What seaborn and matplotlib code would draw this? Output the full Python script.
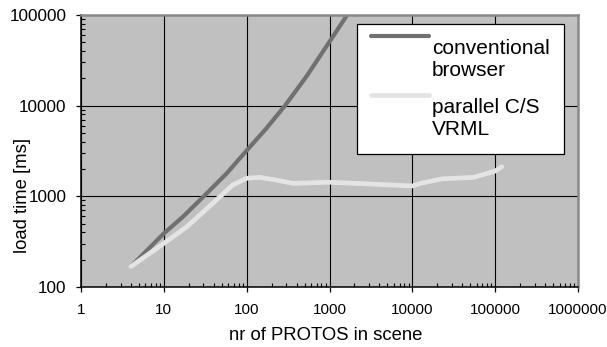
import numpy as np
import pandas as pd
import matplotlib
matplotlib.use("Agg")
import matplotlib.pyplot as plt
import matplotlib.ticker as mticker
import seaborn as sns

# ---- data ----
series_names = ["conventional\nbrowser", "parallel C/S\nVRML"]
conv_x = [4, 10, 17, 32, 57, 100, 173, 290, 525, 1000, 1600]
conv_y = [168, 390, 595, 1050, 1780, 3200, 5620, 10000, 20900, 50700, 97300]
par_x = [4, 10, 19, 43, 68, 100, 144, 220, 363, 1000, 3000, 10000, 13000, 23000, 55000, 100000, 120000]
par_y = [168, 303, 462, 910, 1335, 1580, 1620, 1520, 1390, 1430, 1370, 1300, 1400, 1560, 1620, 1900, 2120]
x_ticks = [1, 10, 100, 1000, 10000, 100000, 1000000]
y_ticks = [100, 1000, 10000, 100000]
x_label = "nr of PROTOS in scene"
y_label = "load time [ms]"

df = pd.concat([
    pd.DataFrame({"x": conv_x, "y": conv_y, "series": series_names[0]}),
    pd.DataFrame({"x": par_x, "y": par_y, "series": series_names[1]}),
], ignore_index=True)

plt.rcParams["font.family"] = ["Liberation Sans", "DejaVu Sans"]

fig = plt.figure(figsize=(6.07, 3.47), dpi=100)
ax = fig.add_axes([81 / 607, 1 - 287 / 347, 497 / 607, 272 / 347])
ax.set_facecolor("#c0c0c0")

palette = {series_names[0]: "#707070", series_names[1]: "#e4e4e4"}
sns.lineplot(data=df, x="x", y="y", hue="series", palette=palette, sort=False,
             estimator=None, legend=False, ax=ax)
widths = [3.0, 3.4]
for ln, lw in zip(ax.lines, widths):
    ln.set_linewidth(lw)
    ln.set_solid_capstyle("round")
    ln.set_solid_joinstyle("round")

ax.set_xscale("log")
ax.set_yscale("log")
ax.set_xlim(x_ticks[0], x_ticks[-1])
ax.set_ylim(y_ticks[0], y_ticks[-1])
ax.xaxis.set_major_locator(mticker.FixedLocator(x_ticks))
ax.yaxis.set_major_locator(mticker.FixedLocator(y_ticks))
ax.xaxis.set_major_formatter(mticker.FuncFormatter(lambda v, p: f"{v:.0f}"))
ax.yaxis.set_major_formatter(mticker.FuncFormatter(lambda v, p: f"{v:.0f}"))
ax.xaxis.set_minor_locator(mticker.LogLocator(base=10, subs=np.arange(2, 10)))
ax.yaxis.set_minor_locator(mticker.LogLocator(base=10, subs=np.arange(2, 10)))
ax.xaxis.set_minor_formatter(mticker.NullFormatter())
ax.yaxis.set_minor_formatter(mticker.NullFormatter())

ax.grid(True, which="major", color="black", linewidth=0.8)
ax.set_axisbelow(True)
ax.tick_params(which="major", direction="out", length=3.6, width=0.9, color="black")
ax.tick_params(axis="x", which="major", labelsize=11, pad=8)
ax.tick_params(axis="y", which="major", labelsize=12.3, pad=7)
ax.tick_params(which="minor", direction="in", length=3.0, width=0.8, color="black")

for side in ["left", "bottom"]:
    ax.spines[side].set_color("black")
    ax.spines[side].set_linewidth(1.1)
for side in ["top", "right"]:
    ax.spines[side].set_color("#8a8a8a")
    ax.spines[side].set_linewidth(1.8)

ax.set_xlabel(x_label, fontsize=13.3)
ax.set_ylabel(y_label, fontsize=13.3)
ax.xaxis.set_label_coords(0.493, -0.147)
ax.yaxis.set_label_coords(-0.1, 0.335)

leg_fs = 15
leg = ax.legend(handles=ax.lines[:2], labels=series_names, loc="upper left",
                bbox_to_anchor=(0.555, 0.967), fontsize=leg_fs, frameon=True,
                fancybox=False, shadow=False, framealpha=1, edgecolor="black",
                borderpad=0.7, labelspacing=0.9, handlelength=2.75,
                handletextpad=0.15, borderaxespad=0)
leg.get_frame().set_linewidth(0.9)
# align each handle with the first text line of its two-line label
for hl in leg.get_lines():
    hl.set_ydata(np.asarray(hl.get_ydata()) + 1.13 * leg_fs)

fig.savefig("out.png", dpi=100)
